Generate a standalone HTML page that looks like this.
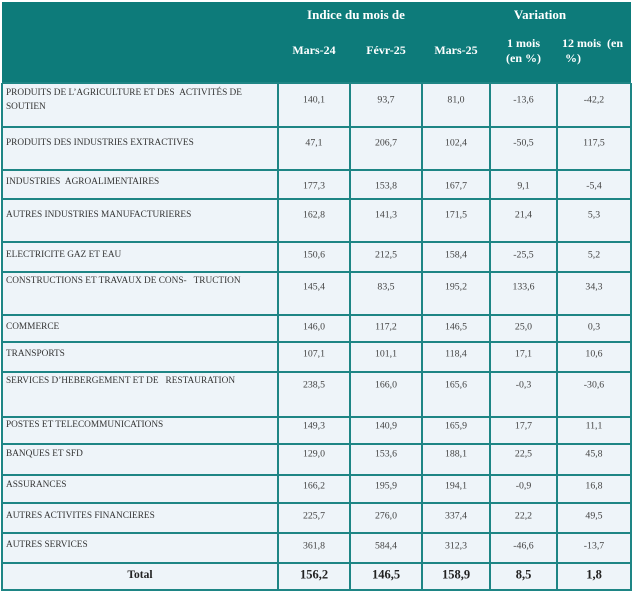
<!DOCTYPE html><html><head><meta charset="utf-8"><style>
body{margin:0;width:633px;height:591px;background:#fff;position:relative;overflow:hidden;font-family:"Liberation Serif",serif;}
.h{position:absolute;left:2px;top:2px;width:629px;height:81px;background:#0d7b7a;}
.t{position:absolute;color:#fff;font-weight:bold;font-size:12px;text-align:center;line-height:15px;}
.bg{position:absolute;left:2px;top:83px;width:629px;height:508px;background:#eef4f9;}
.hl{position:absolute;left:2px;width:629px;height:2px;background:#1e8585;}
.vl{position:absolute;top:83px;width:2px;height:508px;background:#1e8585;}
.l{position:absolute;left:6px;font-size:9.3px;color:#333;line-height:14px;transform:translateY(-50%);white-space:nowrap}
.v{position:absolute;font-size:9.8px;color:#444;text-align:center;transform:translateY(-50%);}
.tot{font-weight:bold;font-size:12.5px;color:#222}
</style></head><body>
<div class="h"></div>
<div class="t" style="left:278px;width:156px;top:7px;font-size:13px">Indice du mois de</div>
<div class="t" style="left:490px;width:100px;top:7px;font-size:13px">Variation</div>
<div class="t" style="left:278px;width:72px;top:43px">Mars-24</div>
<div class="t" style="left:350px;width:72px;top:43px">Févr-25</div>
<div class="t" style="left:422px;width:68px;top:43px">Mars-25</div>
<div class="t" style="left:490px;width:67px;top:36px">1 mois<br>(en %)</div>
<div class="t" style="left:557px;width:74px;top:36px;text-align:left;padding-left:5px">12 mois &nbsp;(en<br>&nbsp;%)</div>
<div class="bg"></div>
<div class="vl" style="left:1px"></div><div class="vl" style="left:277px"></div><div class="vl" style="left:349px"></div><div class="vl" style="left:421px"></div><div class="vl" style="left:489px"></div><div class="vl" style="left:556px"></div><div class="vl" style="left:630px"></div>
<div id="rows"></div>
<script>
var L=[83,127,170,199,242,272,315,342,372,417,444,475,503,533,563,590];
var d=[
["PRODUITS DE L’AGRICULTURE ET DES &nbsp;ACTIVITÉS DE<br>SOUTIEN",100,100,"140,1","93,7","81,0","-13,6","-42,2"],
["PRODUITS DES INDUSTRIES EXTRACTIVES",143,143,"47,1","206,7","102,4","-50,5","117,5"],
["INDUSTRIES &nbsp;AGROALIMENTAIRES",182,186,"177,3","153,8","167,7","9,1","-5,4"],
["AUTRES INDUSTRIES MANUFACTURIERES",215,215,"162,8","141,3","171,5","21,4","5,3"],
["ELECTRICITE GAZ ET EAU",255,255,"150,6","212,5","158,4","-25,5","5,2"],
["CONSTRUCTIONS ET TRAVAUX DE CONS- &nbsp;&nbsp;TRUCTION",281,287,"145,4","83,5","195,2","133,6","34,3"],
["COMMERCE",327,327,"146,0","117,2","146,5","25,0","0,3"],
["TRANSPORTS",354,354,"107,1","101,1","118,4","17,1","10,6"],
["SERVICES D’HEBERGEMENT ET DE &nbsp;&nbsp;RESTAURATION",381,385,"238,5","166,0","165,6","-0,3","-30,6"],
["POSTES ET TELECOMMUNICATIONS",425,426,"149,3","140,9","165,9","17,7","11,1"],
["BANQUES ET SFD",454,454,"129,0","153,6","188,1","22,5","45,8"],
["ASSURANCES",485,486,"166,2","195,9","194,1","-0,9","16,8"],
["AUTRES ACTIVITES FINANCIERES",516,516,"225,7","276,0","337,4","22,2","49,5"],
["AUTRES SERVICES",545,546,"361,8","584,4","312,3","-46,6","-13,7"]];
var C=[[278,72],[350,72],[422,68],[490,67],[557,74]];
var h="";
L.forEach(function(y){h+='<div class="hl" style="top:'+(y-1)+'px"></div>';});
d.forEach(function(r){h+='<div class="l" style="top:'+r[1]+'px">'+r[0]+'</div>';
for(var i=0;i<5;i++)h+='<div class="v" style="left:'+C[i][0]+'px;width:'+C[i][1]+'px;top:'+r[2]+'px">'+r[3+i]+'</div>';});
h+='<div class="v tot" style="left:2px;width:276px;top:575px;font-size:11.5px">Total</div>';
var T=["156,2","146,5","158,9","8,5","1,8"];
for(var i=0;i<5;i++)h+='<div class="v tot" style="left:'+C[i][0]+'px;width:'+C[i][1]+'px;top:575px">'+T[i]+'</div>';
document.getElementById("rows").innerHTML=h;
</script>
</body></html>
